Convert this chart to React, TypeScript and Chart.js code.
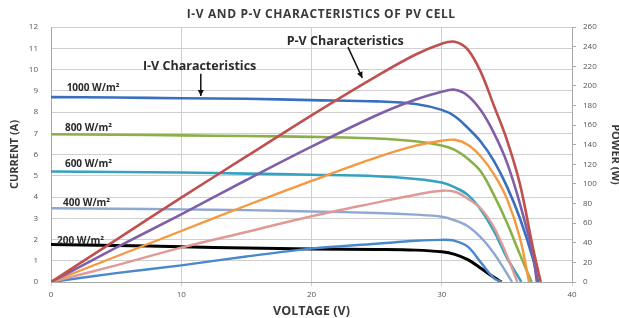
import React, { useEffect, useRef } from "react";
import { Chart, registerables } from "chart.js";

Chart.register(...registerables);

const TITLE = "I-V AND P-V CHARACTERISTICS OF PV CELL";
const X_TITLE = "VOLTAGE (V)";
const Y_TITLE = "CURRENT (A)";
const Y1_TITLE = "POWER (W)";

// Voltage grid shared by the series (V)
const V_GRID = [0, 5, 10, 15, 20, 25, 28, 30, 31, 32, 33, 34, 35, 36, 37];

// I-V curves (A), aligned with V_GRID, plus open-circuit voltage
const I_1000 = [8.7, 8.68, 8.65, 8.62, 8.56, 8.5, 8.38, 8.1, 7.8, 7.25, 6.6, 5.7, 4.5, 3.0, 1.1];
const VOC_I_1000 = 37.4;
const I_800 = [6.95, 6.93, 6.9, 6.87, 6.83, 6.75, 6.62, 6.42, 6.22, 5.8, 5.2, 4.1, 2.8, 1.3];
const VOC_I_800 = 36.9;
const I_600 = [5.2, 5.18, 5.15, 5.1, 5.05, 4.98, 4.85, 4.68, 4.45, 4.1, 3.4, 2.4, 1.15, 0.12];
const VOC_I_600 = 36.1;
const I_400 = [3.47, 3.45, 3.42, 3.38, 3.32, 3.25, 3.17, 3.07, 2.9, 2.62, 2.1, 1.35, 0.4];
const VOC_I_400 = 35.4;
const I_200 = [1.76, 1.72, 1.66, 1.6, 1.55, 1.53, 1.5, 1.42, 1.3, 1.05, 0.65, 0.22];
const VOC_I_200 = 34.6;

// P-V curves (W), aligned with V_GRID
const P_1000 = [0, 43, 86, 128, 170, 210, 232, 243, 245, 237, 214, 180, 145, 100, 35];
const VOC_P_1000 = 37.6;
const P_800 = [0, 35, 69, 104, 138, 170, 186, 194, 196, 190, 175, 152, 122, 80, 28];
const VOC_P_800 = 37.3;
const P_600 = [0, 26, 52, 78, 103, 127, 139, 144, 145, 140, 128, 110, 85, 45];
const VOC_P_600 = 36.7;
const P_400 = [0, 17, 35, 51, 67, 81, 89, 93, 92, 85, 75, 56, 27];
const VOC_P_400 = 35.8;
const P_200 = [0, 9, 17, 26, 34, 39, 42, 43, 42, 36, 20, 4];
const VOC_P_200 = 34.6;

const IRRADIANCE_LABELS = ["1000 W/m²", "800 W/m²", "600 W/m²", "400 W/m²", "200 W/m²"];
const IV_LABEL = "I-V Characteristics";
const PV_LABEL = "P-V Characteristics";

function pts(values: number[], voc: number) {
  return values.map((y, i) => ({ x: V_GRID[i], y })).concat([{ x: voc, y: 0 }]);
}

function ds(label: string, data: any[], color: string, axis: string, width = 2.4) {
  return {
    label,
    data,
    borderColor: color,
    backgroundColor: color,
    borderWidth: width,
    pointRadius: 0,
    tension: 0.35,
    yAxisID: axis,
    fill: false,
  };
}

const annotationPlugin = {
  id: "pvAnnotations",
  afterDatasetsDraw(chart: any) {
    const { ctx, scales } = chart;
    const x = scales.x;
    const y = scales.y;
    const px = (v: number) => x.getPixelForValue(v);
    const py = (v: number) => y.getPixelForValue(v);
    ctx.save();
    // Title
    ctx.fillStyle = "#3a3a3a";
    ctx.font = "bold 12px 'Open Sans'";
    (ctx as any).letterSpacing = "0.6px";
    ctx.textAlign = "center";
    ctx.textBaseline = "middle";
    ctx.fillText(TITLE, px(20.75), 15);
    (ctx as any).letterSpacing = "0px";

    // irradiance labels
    ctx.fillStyle = "#2a2a2a";
    ctx.font = "bold 10px 'Open Sans'";
    ctx.textAlign = "left";
    const labelPos = [
      [1.2, 9.1],
      [1.07, 7.25],
      [1.07, 5.55],
      [0.92, 3.73],
      [0.46, 1.92],
    ];
    IRRADIANCE_LABELS.forEach((t, i) => {
      ctx.fillText(t, px(labelPos[i][0]), py(labelPos[i][1]));
    });

    ctx.font = "bold 12.5px 'Open Sans'";
    ctx.fillText(IV_LABEL, px(7.06), py(10.13));
    ctx.fillText(PV_LABEL, px(18.1), py(11.3));

    const arrow = (x1: number, y1: number, x2: number, y2: number) => {
      const ax = px(x1), ay = py(y1), bx = px(x2), by = py(y2);
      ctx.strokeStyle = "#111";
      ctx.fillStyle = "#111";
      ctx.lineWidth = 1.5;
      ctx.beginPath();
      ctx.moveTo(ax, ay);
      ctx.lineTo(bx, by);
      ctx.stroke();
      const ang = Math.atan2(by - ay, bx - ax);
      const L = 6, W = 3;
      ctx.beginPath();
      ctx.moveTo(bx, by);
      ctx.lineTo(bx - L * Math.cos(ang) + W * Math.sin(ang), by - L * Math.sin(ang) - W * Math.cos(ang));
      ctx.lineTo(bx - L * Math.cos(ang) - W * Math.sin(ang), by - L * Math.sin(ang) + W * Math.cos(ang));
      ctx.closePath();
      ctx.fill();
    };
    arrow(11.5, 9.8, 11.5, 8.75);
    arrow(22.8, 11.05, 23.9, 9.6);
    ctx.restore();
  },
};

export default function App() {
  const ref = useRef<HTMLCanvasElement>(null);
  useEffect(() => {
    document.body.style.margin = "0";
    const canvas = ref.current!;
    const tickFont = { family: "'Open Sans'", size: 8 };
    const titleFont = { family: "'Open Sans'", size: 11, weight: "bold" as const };
    const chart = new Chart(canvas, {
      type: "line",
      data: {
        datasets: [
          ds("P 1000", pts(P_1000, VOC_P_1000), "#C0504D", "y1", 2.6),
          ds("P 800", pts(P_800, VOC_P_800), "#7F5FA8", "y1", 2.6),
          ds("P 600", pts(P_600, VOC_P_600), "#F5983E", "y1"),
          ds("P 400", pts(P_400, VOC_P_400), "#E09A96", "y1"),
          ds("P 200", pts(P_200, VOC_P_200), "#4A88CC", "y1"),
          ds("I 1000", pts(I_1000, VOC_I_1000), "#3A6FBF", "y", 2.6),
          ds("I 800", pts(I_800, VOC_I_800), "#8AB04A", "y", 2.6),
          ds("I 600", pts(I_600, VOC_I_600), "#35A2BF", "y", 2.6),
          ds("I 400", pts(I_400, VOC_I_400), "#8EA8D2", "y"),
          ds("I 200", pts(I_200, VOC_I_200), "#000000", "y", 3),
        ],
      },
      options: {
        responsive: false,
        animation: false,
        layout: { padding: { top: 27, left: 0, right: 0, bottom: 0 } },
        plugins: { legend: { display: false }, title: { display: false }, tooltip: { enabled: false } },
        scales: {
          x: {
            type: "linear",
            min: 0,
            max: 40,
            ticks: { stepSize: 10, font: tickFont, color: "#555", padding: 4, maxRotation: 0 },
            grid: { color: "#cfcfcf", lineWidth: 1, tickLength: 4, drawTicks: true },
            border: { color: "#a8a8a8" },
            title: { display: true, text: X_TITLE, font: { ...titleFont, size: 12.5 }, color: "#3a3a3a", padding: { top: 0, bottom: -1 } },
            afterFit: (s: any) => { s.height = 36; },
          },
          y: {
            type: "linear",
            position: "left",
            min: 0,
            max: 12,
            ticks: { stepSize: 1, font: tickFont, color: "#555", padding: 13 },
            grid: { color: "#cfcfcf", lineWidth: 1, drawTicks: false },
            border: { color: "#a8a8a8" },
            title: { display: true, text: Y_TITLE, font: titleFont, color: "#3a3a3a", padding: { top: 8, bottom: 0 } },
            afterFit: (s: any) => { s.width = 51; },
          },
          y1: {
            type: "linear",
            position: "right",
            min: 0,
            max: 260,
            ticks: { stepSize: 20, font: tickFont, color: "#555", padding: 7 },
            grid: { drawOnChartArea: false, color: "#a8a8a8", tickLength: 4, drawTicks: true },
            border: { color: "#a8a8a8" },
            title: { display: true, text: Y1_TITLE, font: titleFont, color: "#3a3a3a", padding: { top: -3, bottom: 0 } },
            afterFit: (s: any) => { s.width = 47; },
          },
        },
      },
      plugins: [annotationPlugin],
    });
    return () => chart.destroy();
  }, []);
  return <canvas ref={ref} width={619} height={318} style={{ display: "block" }} />;
}
